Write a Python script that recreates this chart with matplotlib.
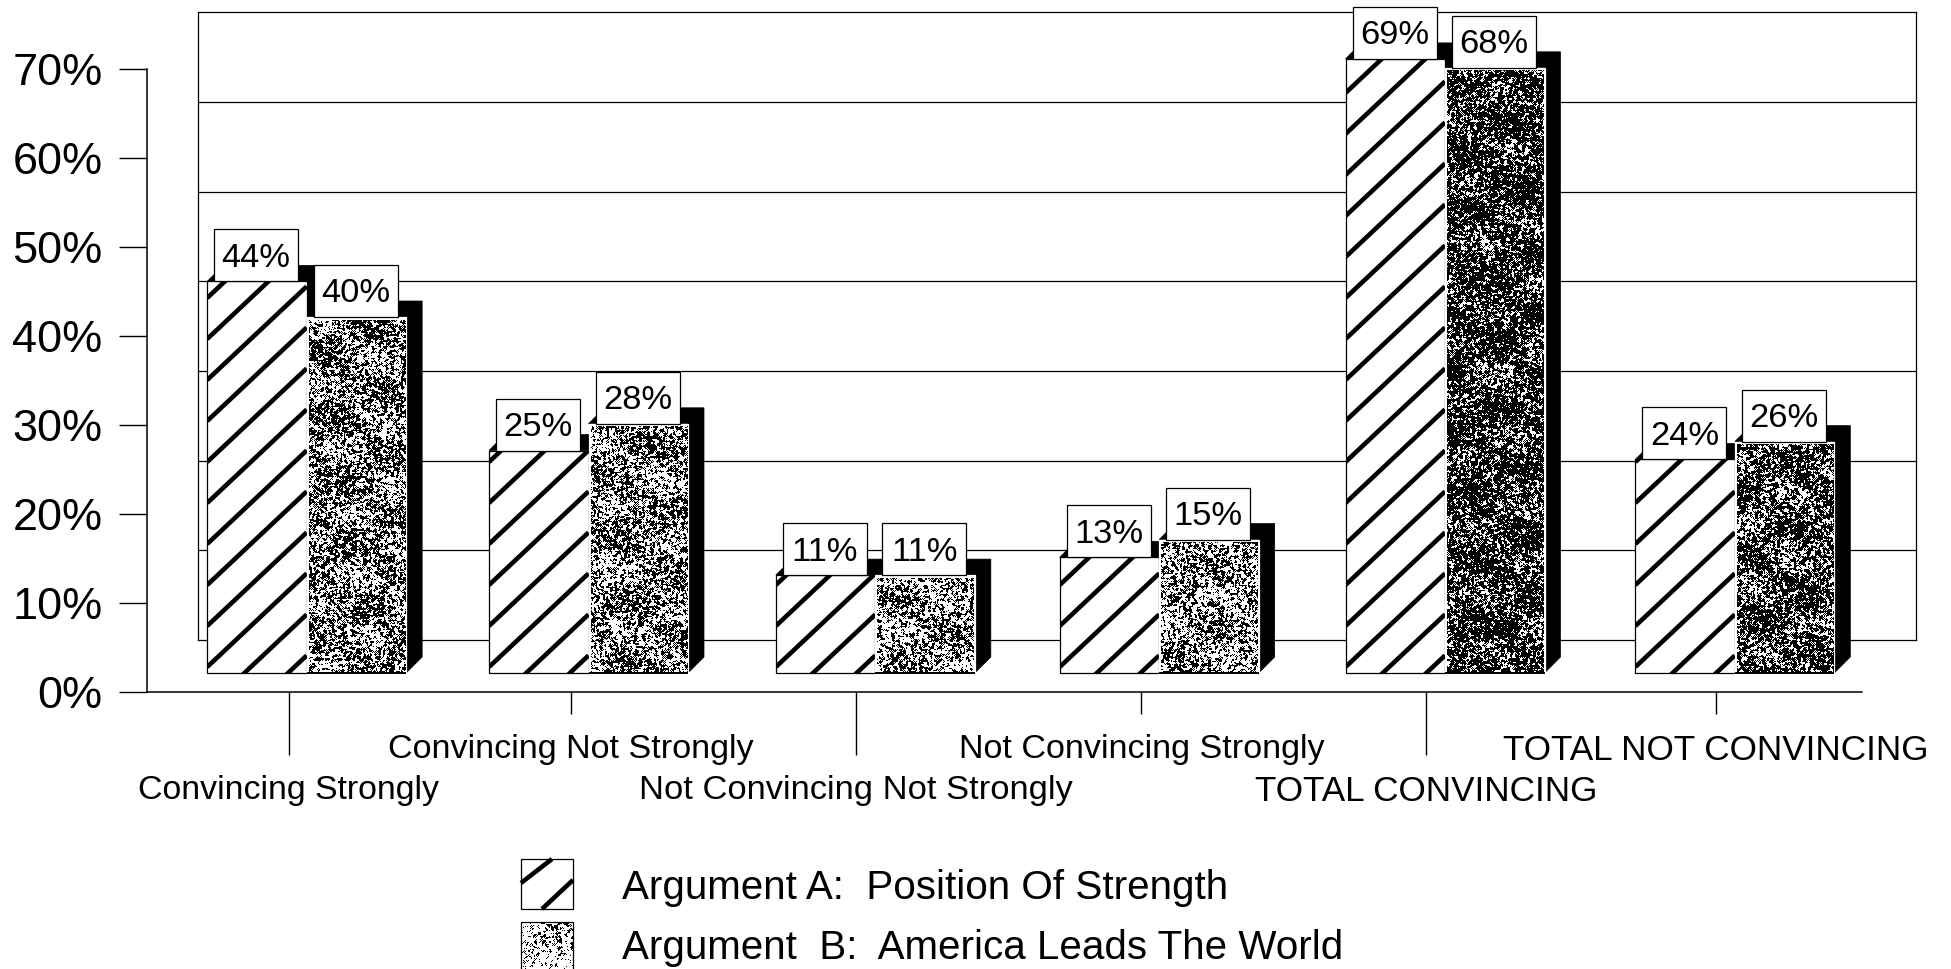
import numpy as np
import matplotlib
matplotlib.use("Agg")
import matplotlib.pyplot as plt
from matplotlib.collections import LineCollection
from matplotlib.patches import Polygon, Rectangle

plt.rcParams['font.family'] = ['Liberation Sans', 'DejaVu Sans']

categories = ["Convincing Strongly", "Convincing Not Strongly", "Not Convincing Not Strongly",
              "Not Convincing Strongly", "TOTAL CONVINCING", "TOTAL NOT CONVINCING"]
arg_a = [44, 25, 11, 13, 69, 24]
arg_b = [40, 28, 11, 15, 68, 26]
series_names = ["Argument A:  Position Of Strength", "Argument  B:  America Leads The World"]
y_ticks = [0, 10, 20, 30, 40, 50, 60, 70]
# how much ink the scanned stipple has on each B bar
b_ink = [0.52, 0.50, 0.45, 0.45, 0.74, 0.66]
# scan is a bit uneven, px nudges per group
bar_nudge = [3, -1, 0, -2, -2, 2]
tick_nudge = [-1, -5, -6, -6, -7, -3]
label_size = [24.4, 24.6, 24.8, 24.6, 25.3, 25.3]

W, H = 1951, 969
fig = plt.figure(figsize=(W/100, H/100), dpi=100)
ax = fig.add_axes([147/W, 1-692/H, (1862-147)/W, (692-69)/H])
ax.patch.set_alpha(0)

px_x = 1715/6   # px per category
px_y = 623/70   # px per percent
def dx(p): return p/px_x
def dy(p): return p/px_y

base = dy(19)      # bars float above the axis because of the 3d floor
depth_x, depth_y = dx(16), dy(16)
bar_w = dx(99.5)

def stipple(w, h, ink, ph=0.0):
    # blotchy print texture: sine hash, small blur, then cut at the ink level
    yy, xx = np.mgrid[0:int(h), 0:int(w)]
    f = np.sin((xx+ph*17)*12.9898+yy*78.233)*43758.5453
    f = f-np.floor(f)
    f = (f+np.roll(f, 1, 0)+np.roll(f, 1, 1)+np.roll(f, -1, 0)+np.roll(f, -1, 1))/5
    f = f+0.035*np.sin(0.07*xx+0.11*yy+ph)+0.03*np.cos(0.05*xx-0.09*yy+2*ph)
    return (f >= np.quantile(f, ink)).astype(float)

for s in ['top', 'right']:
    ax.spines[s].set_visible(False)
for s in ['left', 'bottom']:
    ax.spines[s].set_linewidth(1.1)

# back wall
x0, x1 = -0.5+dx(51), 5.5+dx(54)
wall_step = 89.7/px_y
for t in range(len(y_ticks)):
    ax.plot([x0, x1], [dy(52)+t*wall_step]*2, color='k', lw=0.9, clip_on=False, zorder=1)
for x in [x0, x1]:
    ax.plot([x, x], [dy(52), dy(52)+7*wall_step], color='k', lw=0.9, clip_on=False, zorder=1)

def draw_bar(left, val, ec='k'):
    top = val+base
    right = left+bar_w
    ax.add_patch(Polygon([(left, top), (left+depth_x, top+depth_y), (right+depth_x, top+depth_y),
                          (right+depth_x, base+depth_y), (right, base), (right, top)],
                         fc='k', ec='k', lw=0.5, zorder=2, clip_on=False))
    return ax.bar(left, val, bar_w, bottom=base, align='edge', fc='white', ec=ec, lw=0.9,
                  zorder=3, clip_on=False)[0]

for i in range(6):
    left_a = i-0.30+dx(bar_nudge[i])
    left_b = left_a+bar_w
    rect = draw_bar(left_a, arg_a[i])
    # wide diagonal stripes, mpl hatch can't go this sparse
    slope = dy(0.94)/dx(1)
    offs = np.arange(dy(6)-dy(41)*30, arg_a[i]+dy(41), dy(41))
    segs = [[(left_a, base+o), (left_a+bar_w, base+o+slope*bar_w)] for o in offs]
    lc = LineCollection(segs, colors='k', linewidths=3.3, zorder=4)
    ax.add_collection(lc)
    lc.set_clip_path(rect)

    rect_b = draw_bar(left_b, arg_b[i], ec='white')
    tex = stipple(96, arg_b[i]*px_y, b_ink[i], ph=i*0.7)
    im = ax.imshow(tex, cmap='gray', vmin=0, vmax=1, aspect='auto', interpolation='nearest', zorder=3.5,
                   extent=(left_b+dx(2), left_b+bar_w-dx(1), base+arg_b[i]-dy(3), base), clip_on=True)
    im.set_clip_path(rect_b)
    ax.plot([left_b, left_b+bar_w], [base, base], color='k', lw=1.4, zorder=4, solid_capstyle='butt')

    for left, val in [(left_a, arg_a[i]), (left_b, arg_b[i])]:
        top = val+base
        ax.add_patch(Rectangle((left+dx(7), top), dx(84), dy(52), fc='white', ec='k', lw=0.9,
                               zorder=5, clip_on=False))
        ax.text(left+dx(49), top+dy(23), f"{val}%", ha='center', va='center', fontsize=24.8,
                zorder=6, clip_on=False)

ax.set_xlim(-0.5, 5.5)
ax.set_ylim(0, 70)

ax.set_yticks(y_ticks)
ax.set_yticklabels([f"{t}%" for t in y_ticks], fontsize=32.5)
ax.tick_params(axis='y', length=20, width=1.0, pad=12)

tick_pos = [i+dx(n) for i, n in enumerate(tick_nudge)]
ax.set_xticks(tick_pos[0::2])
ax.set_xticklabels(categories[0::2])
ax.tick_params(axis='x', which='major', length=45, width=1.0, pad=15)
ax.set_xticks(tick_pos[1::2], minor=True)
ax.set_xticklabels(categories[1::2], minor=True)
ax.tick_params(axis='x', which='minor', length=16, width=1.0, pad=14)
for lab, size in zip(ax.get_xticklabels(), label_size[0::2]):
    lab.set_fontsize(size)
for lab, size in zip(ax.get_xticklabels(minor=True), label_size[1::2]):
    lab.set_fontsize(size)

# legend by hand, swatch stripes match the bars
def fx(p): return p/W
def fy(p): return 1-p/H
fig.add_artist(Rectangle((fx(521), fy(909)), 52/W, 50/H, transform=fig.transFigure, fc='white', ec='k', lw=0.9))
for xa, ya, xb, yb in [(521, 883, 552, 859), (542, 909, 573, 880)]:
    fig.add_artist(plt.Line2D([fx(xa), fx(xb)], [fy(ya), fy(yb)], transform=fig.transFigure,
                              color='k', lw=3.3, solid_capstyle='butt'))
fig.figimage(stipple(52, 47, 0.22, ph=1.1), xo=521, yo=0, cmap='gray', vmin=0, vmax=1, zorder=2)
fig.add_artist(Rectangle((fx(521), fy(972)), 52/W, 50/H, transform=fig.transFigure, fc='none', ec='k', lw=0.9,
                         zorder=3))
fig.text(fx(622), fy(899), series_names[0], fontsize=29.1, va='baseline')
fig.text(fx(622), fy(959), series_names[1], fontsize=29.1, va='baseline')

fig.savefig("out.png", dpi=100)
